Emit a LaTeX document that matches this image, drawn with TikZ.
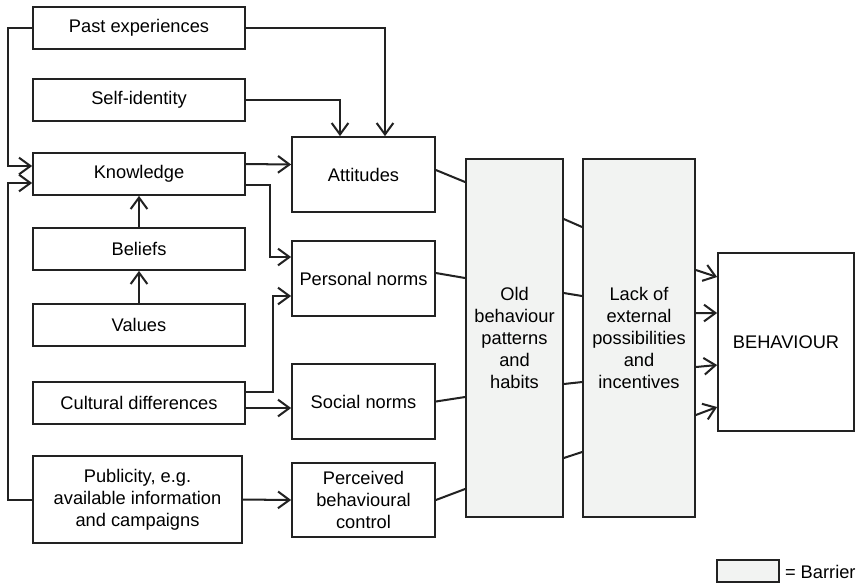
\documentclass[tikz,border=0pt]{standalone}
\usepackage{fontspec}
\setmainfont{Liberation Sans}
\usetikzlibrary{arrows.meta}
\definecolor{ink}{HTML}{222222}
\definecolor{barrier}{HTML}{F2F3F2}
\begin{document}
\begin{tikzpicture}[
  x=0.02cm, y=-0.02cm,
  line cap=round, line join=miter,
  every node/.style={font=\fontsize{10.4}{12.5}\selectfont, inner sep=1.5pt, align=center},
  box/.style={draw=ink, line width=1pt, fill=white},
  factor/.style={box, minimum width=4.24cm, minimum height=0.84cm},
  determinant/.style={box, minimum width=2.86cm, minimum height=1.5cm},
  barrierbox/.style={box, fill=barrier, minimum height=7.16cm},
  link/.style={draw=ink, line width=1.15pt},
  arrow/.style={link, -{Straight Barb[length=6.5pt, width=9.5pt, line width=1.15pt]}},
]
\useasboundingbox (0,0) rectangle (864,583);
\node[factor] (past) at (139,28) {Past experiences};
\node[factor] (self) at (139,100) {Self-identity};
\node[factor] (know) at (139,174) {Knowledge};
\node[factor] (beliefs) at (139,249) {Beliefs};
\node[factor] (values) at (139,325) {Values};
\node[factor] (culture) at (139,403) {Cultural differences};
\node[factor, minimum width=4.18cm, minimum height=1.74cm] (public) at (137.5,499.5) {Publicity, e.g.\\available information\\and campaigns};
\node[determinant] (att) at (363.5,174.5) {Attitudes};
\node[determinant] (pers) at (363.5,278.5) {Personal norms};
\node[determinant] (soc) at (363.5,401.5) {Social norms};
\node[determinant, minimum height=1.48cm] (perc) at (363.5,500) {Perceived\\behavioural\\control};
\node[barrierbox, minimum width=1.94cm] (old) at (514.5,338) {Old\\behaviour\\patterns\\and\\habits};
\node[barrierbox, minimum width=2.24cm] (lack) at (639,338) {Lack of\\external\\possibilities\\and\\incentives};
\node[box, minimum width=2.72cm, minimum height=3.56cm] (beh) at (786,342) {BEHAVIOUR};
\node[box, fill=barrier, minimum width=1.24cm, minimum height=0.44cm] (key) at (748,571) {};
\node[anchor=west] (keytext) at (782,572) {= Barrier};
\draw[arrow] (past.west) -- ++(-24,0) |- ([yshift=0.16cm]know.west);
\draw[arrow] (public.west) -- ++(-24,0) |- ([yshift=-0.18cm]know.west);
\draw[arrow] (past.east) -| ([xshift=0.43cm]att.north);
\draw[arrow] (self.east) -| ([xshift=-0.47cm]att.north);
\draw[arrow] ([yshift=0.2cm]know.east) -- ([yshift=0.2cm]att.west);
\draw[arrow] ([yshift=-0.22cm]know.east) -- ++(24,0) |- ([yshift=0.43cm]pers.west);
\draw[arrow] (beliefs.north) -- (know.south);
\draw[arrow] (values.north) -- (beliefs.south);
\draw[arrow] ([yshift=0.22cm]culture.east) -- ++(27,0) |- ([yshift=-0.35cm]pers.west);
\coordinate (cultsoc) at ([yshift=-0.1cm]culture.east);
\draw[arrow] (cultsoc) -- (cultsoc -| soc.west);
\draw[arrow] (public.east) -- (perc.west);
\draw[link] ([yshift=0.09cm]att.east) -- ([yshift=3.12cm]old.west);
\draw[link] ([yshift=0.11cm]pers.east) -- ([yshift=1.2cm]old.west);
\draw[link] (soc.east) -- ([yshift=-1.18cm]old.west);
\draw[link] (perc.east) -- ([yshift=-3.02cm]old.west);
\draw[link] ([yshift=2.38cm]old.east) -- ([yshift=2.22cm]lack.west);
\draw[link] ([yshift=0.9cm]old.east) -- ([yshift=0.84cm]lack.west);
\draw[link] ([yshift=-0.92cm]old.east) -- ([yshift=-0.88cm]lack.west);
\draw[link] ([yshift=-2.4cm]old.east) -- ([yshift=-2.28cm]lack.west);
\draw[arrow] ([yshift=1.36cm]lack.east) -- ([yshift=1.3cm]beh.west);
\draw[arrow] ([yshift=0.5cm]lack.east) -- ([yshift=0.58cm]beh.west);
\draw[arrow] ([yshift=-0.58cm]lack.east) -- ([yshift=-0.46cm]beh.west);
\draw[arrow] ([yshift=-1.54cm]lack.east) -- ([yshift=-1.3cm]beh.west);
\end{tikzpicture}
\end{document}
